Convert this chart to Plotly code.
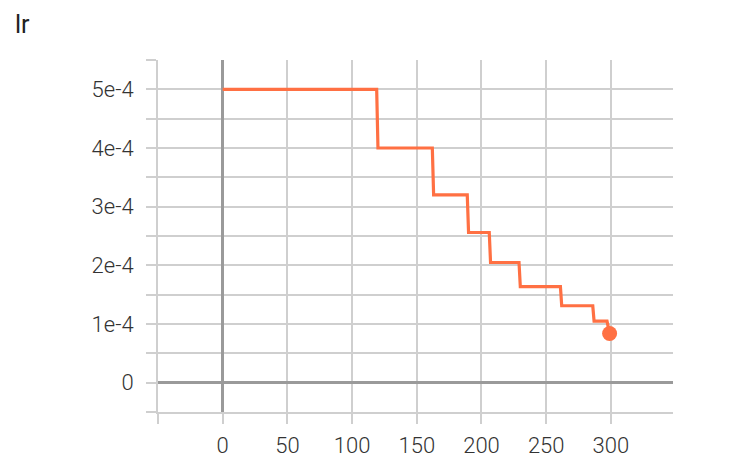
import plotly.graph_objects as go

# learning rate schedule (step -> lr) at each drop
steps = [0, 119, 120, 162, 163, 189, 190, 206, 207, 229, 230, 261, 262, 286, 287, 297, 299]
lr = [5e-4, 5e-4, 4e-4, 4e-4, 3.2e-4, 3.2e-4, 2.56e-4, 2.56e-4, 2.048e-4, 2.048e-4,
      1.6384e-4, 1.6384e-4, 1.31072e-4, 1.31072e-4, 1.048576e-4, 1.048576e-4, 8.388608e-5]

x_ticks = [-50, 0, 50, 100, 150, 200, 250, 300]
x_labels = ["", "0", "50", "100", "150", "200", "250", "300"]
y_ticks = [0, 1e-4, 2e-4, 3e-4, 4e-4, 5e-4]
y_labels = ["0", "1e-4", "2e-4", "3e-4", "4e-4", "5e-4"]
y_minor = [-0.5e-4, 0.5e-4, 1.5e-4, 2.5e-4, 3.5e-4, 4.5e-4, 5.5e-4]

color = "#ff7043"
grid = "#cfcfcf"
zero = "#9a9a9a"
tick_font = dict(family="Roboto", size=22, color="#333333", weight=300)

fig = go.Figure()
fig.add_trace(go.Scatter(x=steps, y=lr, mode="lines", line=dict(color=color, width=3.2),
                         hoverinfo="skip"))
fig.add_trace(go.Scatter(x=steps[-1:], y=lr[-1:], mode="markers",
                         marker=dict(color=color, size=15), hoverinfo="skip"))

# page body adds an 8px offset, margins compensate for it
fig.update_layout(
    width=736, height=470,
    margin=dict(l=150, r=71, t=52, b=66),
    paper_bgcolor="white", plot_bgcolor="white",
    showlegend=False,
    title=dict(text="lr", x=7 / 736, xref="container", xanchor="left",
               y=1 - 16 / 470, yref="container", yanchor="middle",
               font=dict(family="Roboto", size=25, color="#212121")),
)

axis_style = dict(
    showgrid=True, gridcolor=grid, gridwidth=1.8,
    zeroline=True, zerolinecolor=zero, zerolinewidth=2.6,
    ticks="outside", ticklen=10, tickcolor=grid, tickwidth=1.8,
    showline=True, linecolor=grid, linewidth=1.8, mirror=False,
    tickfont=tick_font,
)
fig.update_xaxes(range=[-50, 348], tickvals=x_ticks, ticktext=x_labels,
                 ticklabelstandoff=3, **axis_style)
fig.update_yaxes(
    range=[-0.5e-4, 5.5e-4], tickvals=y_ticks, ticktext=y_labels,
    minor=dict(tickvals=y_minor, showgrid=True, gridcolor=grid, gridwidth=1.8,
               ticks="outside", ticklen=10, tickcolor=grid, tickwidth=1.8),
    ticklabelstandoff=8, **axis_style,
)

fig.write_html("out.html")
